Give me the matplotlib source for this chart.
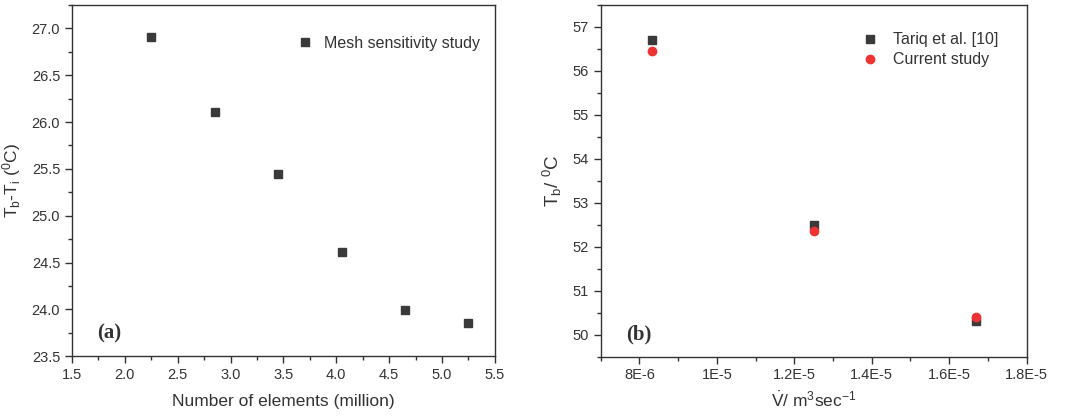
import matplotlib
matplotlib.use("Agg")
import matplotlib.pyplot as plt
from matplotlib.ticker import MultipleLocator, FixedLocator, FixedFormatter

plt.rcParams["font.family"] = ["Liberation Sans", "DejaVu Sans"]
plt.rcParams["mathtext.fontset"] = "custom"
plt.rcParams["mathtext.rm"] = "Liberation Sans"
plt.rcParams["mathtext.it"] = "Liberation Sans"

TXT = "#333333"
MARK = "#3a3a3a"
RED = "#ee3333"

# (a) mesh sensitivity
elements = [2.25, 2.85, 3.45, 4.05, 4.65, 5.25]
dT = [26.91, 26.11, 25.45, 24.61, 23.99, 23.85]

# (b) validation against Tariq et al.
flow = [8.33e-6, 1.25e-5, 1.67e-5]
tariq = [56.70, 52.50, 50.30]
current = [56.45, 52.35, 50.40]
flow_ticks = [8e-6, 1e-5, 1.2e-5, 1.4e-5, 1.6e-5, 1.8e-5]
flow_labels = ["8E-6", "1E-5", "1.2E-5", "1.4E-5", "1.6E-5", "1.8E-5"]


def style(ax):
    for s in ax.spines.values():
        s.set_color(TXT)
        s.set_linewidth(1.0)
    ax.tick_params(which="both", direction="out", colors=TXT, labelcolor=TXT,
                   top=False, right=False, labelsize=10.5)
    ax.tick_params(which="major", length=5, width=1)
    ax.tick_params(which="minor", length=3, width=1)


fig = plt.figure(figsize=(10.65, 4.19), dpi=100)
ax1 = fig.add_axes([0.0676, 0.150, 0.397, 0.838])
ax2 = fig.add_axes([0.564, 0.149, 0.400, 0.839])

# ---- panel (a)
ax1.plot(elements, dT, ls="none", marker="s", ms=5.5, color=MARK,
         label="Mesh sensitivity study")
ax1.set_xlim(1.5, 5.5)
ax1.set_ylim(23.5, 27.25)
ax1.xaxis.set_major_locator(MultipleLocator(0.5))
ax1.xaxis.set_minor_locator(MultipleLocator(0.25))
ax1.yaxis.set_major_locator(MultipleLocator(0.5))
ax1.yaxis.set_minor_locator(MultipleLocator(0.25))
ax1.xaxis.set_major_formatter(matplotlib.ticker.FormatStrFormatter("%.1f"))
ax1.yaxis.set_major_formatter(matplotlib.ticker.FormatStrFormatter("%.1f"))
style(ax1)
ax1.set_xlabel("Number of elements (million)", fontsize=12.5, color=TXT, labelpad=9)
ax1.set_ylabel("T$_b$-T$_i$ ($^0$C)", fontsize=12.5, color=TXT, labelpad=6)
ax1.legend(loc="upper right", bbox_to_anchor=(1.0, 0.954), frameon=False,
           fontsize=11.5, handletextpad=0.2, borderaxespad=0.5, labelcolor=TXT)
ax1.text(0.06, 0.05, "(a)", transform=ax1.transAxes, fontsize=15,
         fontweight="bold", family="Liberation Serif", color=TXT)

# ---- panel (b)
ax2.plot(flow, tariq, ls="none", marker="s", ms=5.5, color=MARK,
         label="Tariq et al. [10]")
ax2.plot(flow, current, ls="none", marker="o", ms=6, color=RED,
         label="Current study")
ax2.set_xlim(7e-6, 1.8e-5)
ax2.set_ylim(49.5, 57.5)
ax2.xaxis.set_major_locator(FixedLocator(flow_ticks))
ax2.xaxis.set_major_formatter(FixedFormatter(flow_labels))
ax2.xaxis.set_minor_locator(MultipleLocator(1e-6))
ax2.yaxis.set_major_locator(MultipleLocator(1))
ax2.yaxis.set_minor_locator(MultipleLocator(0.5))
style(ax2)
ax2.set_xlabel(r"$\dot{\mathrm{V}}$/ m$^3$sec$^{-1}$", fontsize=12.5, color=TXT,
               labelpad=6)
ax2.set_ylabel("T$_b$/ $^0$C", fontsize=13.5, color=TXT, labelpad=6)
ax2.legend(loc="upper right", bbox_to_anchor=(0.967, 0.963), frameon=False,
           fontsize=11.5, handletextpad=0.4, borderaxespad=0.5,
           labelspacing=0.3, labelcolor=TXT)
ax2.text(0.06, 0.05, "(b)", transform=ax2.transAxes, fontsize=15,
         fontweight="bold", family="Liberation Serif", color=TXT)

fig.savefig("out.png", dpi=100)
